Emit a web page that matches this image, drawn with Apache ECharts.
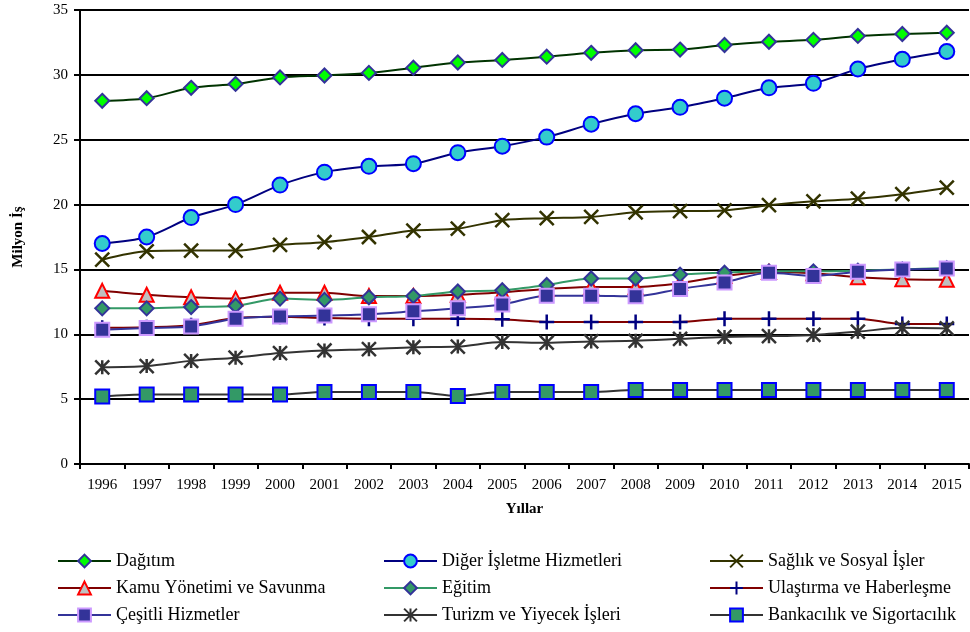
<!DOCTYPE html>
<html>
<head>
<meta charset="utf-8">
<script src="https://cdn.jsdelivr.net/npm/echarts@6/dist/echarts.min.js"></script>
<style>
  html, body { margin: 0; padding: 0; background: #fff; }
  #chart { width: 970px; height: 632px; }
</style>
</head>
<body>
<div id="chart"></div>
<script>
const years = ['1996', '1997', '1998', '1999', '2000', '2001', '2002', '2003', '2004', '2005',
    '2006', '2007', '2008', '2009', '2010', '2011', '2012', '2013', '2014', '2015']
const yTicks = [0, 5, 10, 15, 20, 25, 30, 35]

const dagitim = [28.0, 28.2, 29.0, 29.3, 29.8, 29.95, 30.15, 30.55, 30.95, 31.15, 31.4, 31.7, 31.9, 31.95, 32.3, 32.55, 32.7, 33.0, 33.15, 33.25]
const digerIsletme = [17.0, 17.5, 19.0, 20.0, 21.5, 22.5, 22.95, 23.15, 24.0, 24.5, 25.2, 26.2, 27.0, 27.5, 28.2, 29.0, 29.35, 30.45, 31.2, 31.8]
const saglik = [15.75, 16.4, 16.45, 16.45, 16.9, 17.1, 17.5, 18.0, 18.15, 18.8, 18.95, 19.05, 19.4, 19.5, 19.55, 19.95, 20.25, 20.45, 20.8, 21.3]
const kamu = [13.35, 13.05, 12.85, 12.75, 13.2, 13.2, 12.95, 12.95, 13.05, 13.25, 13.5, 13.65, 13.65, 13.95, 14.5, 14.8, 14.7, 14.4, 14.25, 14.2]
const egitim = [12.0, 12.0, 12.1, 12.2, 12.75, 12.65, 12.85, 12.95, 13.3, 13.4, 13.8, 14.3, 14.3, 14.6, 14.75, 14.85, 14.85, 14.9, 15.0, 15.1]
const ulastirma = [10.5, 10.55, 10.7, 11.25, 11.35, 11.25, 11.2, 11.2, 11.2, 11.15, 10.95, 10.95, 10.95, 10.95, 11.2, 11.2, 11.2, 11.2, 10.8, 10.8]
const cesitli = [10.35, 10.48, 10.6, 11.2, 11.38, 11.44, 11.55, 11.77, 12.0, 12.3, 12.98, 12.98, 12.93, 13.5, 14.0, 14.74, 14.5, 14.82, 14.99, 15.07]
const turizm = [7.45, 7.55, 7.95, 8.2, 8.55, 8.75, 8.85, 9.0, 9.05, 9.4, 9.35, 9.45, 9.5, 9.65, 9.8, 9.85, 9.95, 10.2, 10.5, 10.45]
const bankacilik = [5.2, 5.35, 5.35, 5.35, 5.35, 5.55, 5.55, 5.55, 5.25, 5.55, 5.55, 5.55, 5.7, 5.7, 5.7, 5.7, 5.7, 5.7, 5.7, 5.7]

const FONT = 'Liberation Serif'
const xMark = 'path://M0,0L10,10M10,0L0,10'
const plusMark = 'path://M5,0L5,10M0,5L10,5'
const starMark = 'path://M5,0L5,10M0,0L10,10M10,0L0,10'

function makeSeries (name, data, lineColor, symbol, size, fill, border, borderWidth) {
    return {
        name: name,
        type: 'line',
        data: data,
        smooth: 0.3,
        symbol: symbol,
        symbolSize: size,
        showAllSymbol: true,
        lineStyle: { color: lineColor, width: 2 },
        itemStyle: { color: fill, borderColor: border, borderWidth: borderWidth },
        emphasis: { disabled: true }
    }
}

const chart = echarts.init(document.getElementById('chart'))

const legendBase = {
    orient: 'vertical',
    top: 552,
    padding: 0,
    itemWidth: 53,
    itemHeight: 16,
    itemGap: 9,
    textStyle: { fontFamily: FONT, fontSize: 18, color: '#000' }
}

const option = {
    animation: false,
    backgroundColor: '#fff',
    grid: { left: 80, right: 1, top: 10, bottom: 168 },
    legend: [
        Object.assign({ left: 57, data: ['Dağıtım', 'Kamu Yönetimi ve Savunma', 'Çeşitli Hizmetler'] }, legendBase),
        Object.assign({ left: 383, data: ['Diğer İşletme Hizmetleri', 'Eğitim', 'Turizm ve Yiyecek İşleri'] }, legendBase),
        Object.assign({ left: 709, data: ['Sağlık ve Sosyal İşler', 'Ulaştırma ve Haberleşme', 'Bankacılık ve Sigortacılık'] }, legendBase)
    ],
    xAxis: {
        type: 'category',
        data: years,
        boundaryGap: true,
        name: 'Yıllar',
        nameLocation: 'middle',
        nameGap: 38,
        nameTextStyle: { fontFamily: FONT, fontSize: 15, fontWeight: 'bold', color: '#000' },
        axisLine: { lineStyle: { color: '#000', width: 2 } },
        axisTick: { show: true, length: 5, lineStyle: { color: '#000', width: 2 } },
        axisLabel: { fontFamily: FONT, fontSize: 15, color: '#000', margin: 14, interval: 0 },
        splitLine: { show: false }
    },
    yAxis: {
        type: 'value',
        min: yTicks[0],
        max: yTicks[yTicks.length - 1],
        interval: 5,
        name: 'Milyon İş',
        nameLocation: 'middle',
        nameGap: 54,
        nameTextStyle: { fontFamily: FONT, fontSize: 15, fontWeight: 'bold', color: '#000' },
        axisLine: { show: true, lineStyle: { color: '#000', width: 2 } },
        axisTick: { show: true, length: 6, lineStyle: { color: '#000', width: 2 } },
        axisLabel: { fontFamily: FONT, fontSize: 15, color: '#000', margin: 12 },
        splitLine: { show: true, lineStyle: { color: '#000', width: 2 } }
    },
    series: [
        makeSeries('Dağıtım', dagitim, '#003300', 'diamond', 14, '#00FF00', '#333399', 2),
        makeSeries('Diğer İşletme Hizmetleri', digerIsletme, '#000080', 'circle', 15, '#33CCCC', '#0000FF', 2),
        makeSeries('Sağlık ve Sosyal İşler', saglik, '#333300', xMark, 14, '#333300', '#333300', 2.5),
        makeSeries('Kamu Yönetimi ve Savunma', kamu, '#800000', 'triangle', 14, '#C0C0C0', '#FF0000', 2),
        makeSeries('Eğitim', egitim, '#339966', 'diamond', 14, '#339966', '#333399', 2),
        makeSeries('Ulaştırma ve Haberleşme', ulastirma, '#800000', plusMark, 15, '#000080', '#000080', 2.5),
        makeSeries('Çeşitli Hizmetler', cesitli, '#333399', 'rect', 14, '#333399', '#CC99FF', 2),
        makeSeries('Turizm ve Yiyecek İşleri', turizm, '#333333', starMark, 14, '#333333', '#333333', 2.5),
        makeSeries('Bankacılık ve Sigortacılık', bankacilik, '#333333', 'rect', 14, '#339966', '#0000FF', 2)
    ]
}

chart.setOption(option)
</script>
</body>
</html>
